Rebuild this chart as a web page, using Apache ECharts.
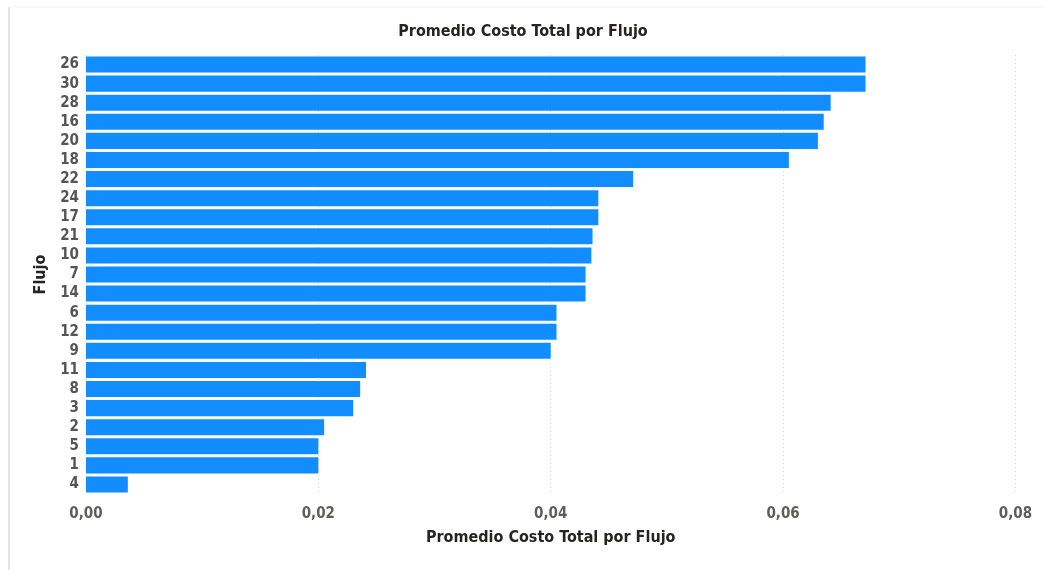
<!DOCTYPE html>
<html>
<head>
<meta charset="utf-8">
<script src="https://cdn.jsdelivr.net/npm/echarts@6/dist/echarts.min.js"></script>
<style>
  html, body { margin: 0; padding: 0; background: #ffffff; }
  #chart { width: 1046px; height: 570px; }
</style>
</head>
<body>
<div id="chart"></div>
<script>
// Flow identifiers, ordered from highest to lowest average cost
const flujos = ['26', '30', '28', '16', '20', '18', '22', '24', '17', '21', '10', '7', '14', '6', '12', '9', '11', '8', '3', '2', '5', '1', '4'];
// Average total cost per flow
const costoPromedio = [0.0671, 0.0671, 0.0641, 0.0635, 0.0630, 0.0605, 0.0471, 0.0441, 0.0441, 0.0436, 0.0435, 0.0430, 0.0430, 0.0405, 0.0405, 0.0400, 0.0241, 0.0236, 0.0230, 0.0205, 0.0200, 0.0200, 0.0036];
// Value axis ticks
const ticksX = [0, 0.02, 0.04, 0.06, 0.08];

const FONT = '"DejaVu Sans Condensed", "Liberation Sans Narrow", "DejaVu Sans", sans-serif';

const chart = echarts.init(document.getElementById('chart'), null, { renderer: 'canvas' });

chart.setOption({
  backgroundColor: '#ffffff',
  animation: false,
  title: {
    text: 'Promedio Costo Total por Flujo',
    left: 'center',
    top: 19,
    textStyle: { fontFamily: FONT, fontSize: 16, fontWeight: 'bold', color: '#252423' }
  },
  graphic: [
    { type: 'line', shape: { x1: 9, y1: 7, x2: 9, y2: 570 }, style: { stroke: '#e3e3e3', lineWidth: 2 } },
    { type: 'line', shape: { x1: 9, y1: 7, x2: 1046, y2: 7 }, style: { stroke: '#f3f3f3', lineWidth: 1 } }
  ],
  grid: { left: 86, right: 30.6, top: 55, height: 439, containLabel: false },
  xAxis: {
    type: 'value',
    min: ticksX[0],
    max: ticksX[ticksX.length - 1],
    interval: 0.02,
    name: 'Promedio Costo Total por Flujo',
    nameLocation: 'middle',
    nameGap: 36,
    nameTextStyle: { fontFamily: FONT, fontSize: 16, fontWeight: 'bold', color: '#252423' },
    axisLine: { show: false },
    axisTick: { show: false },
    axisLabel: {
      margin: 13,
      fontFamily: FONT, fontSize: 15, fontWeight: 'bold', color: '#605E5C',
      formatter: v => v.toFixed(2).replace('.', ',')
    },
    splitLine: { show: true, lineStyle: { type: [1, 3], color: '#d6d6d6', width: 1 } }
  },
  yAxis: {
    type: 'category',
    inverse: true,
    data: flujos,
    name: 'Flujo',
    nameLocation: 'middle',
    nameGap: 28,
    nameRotate: 90,
    nameTextStyle: { fontFamily: FONT, fontSize: 16, fontWeight: 'bold', color: '#252423' },
    axisLine: { show: false },
    axisTick: { show: false },
    axisLabel: { interval: 0, margin: 7, fontFamily: FONT, fontSize: 15, fontWeight: 'bold', color: '#555555' }
  },
  series: [{
    type: 'bar',
    data: costoPromedio,
    barCategoryGap: '16%',
    itemStyle: { color: '#118DFF' }
  }]
});
</script>
</body>
</html>
